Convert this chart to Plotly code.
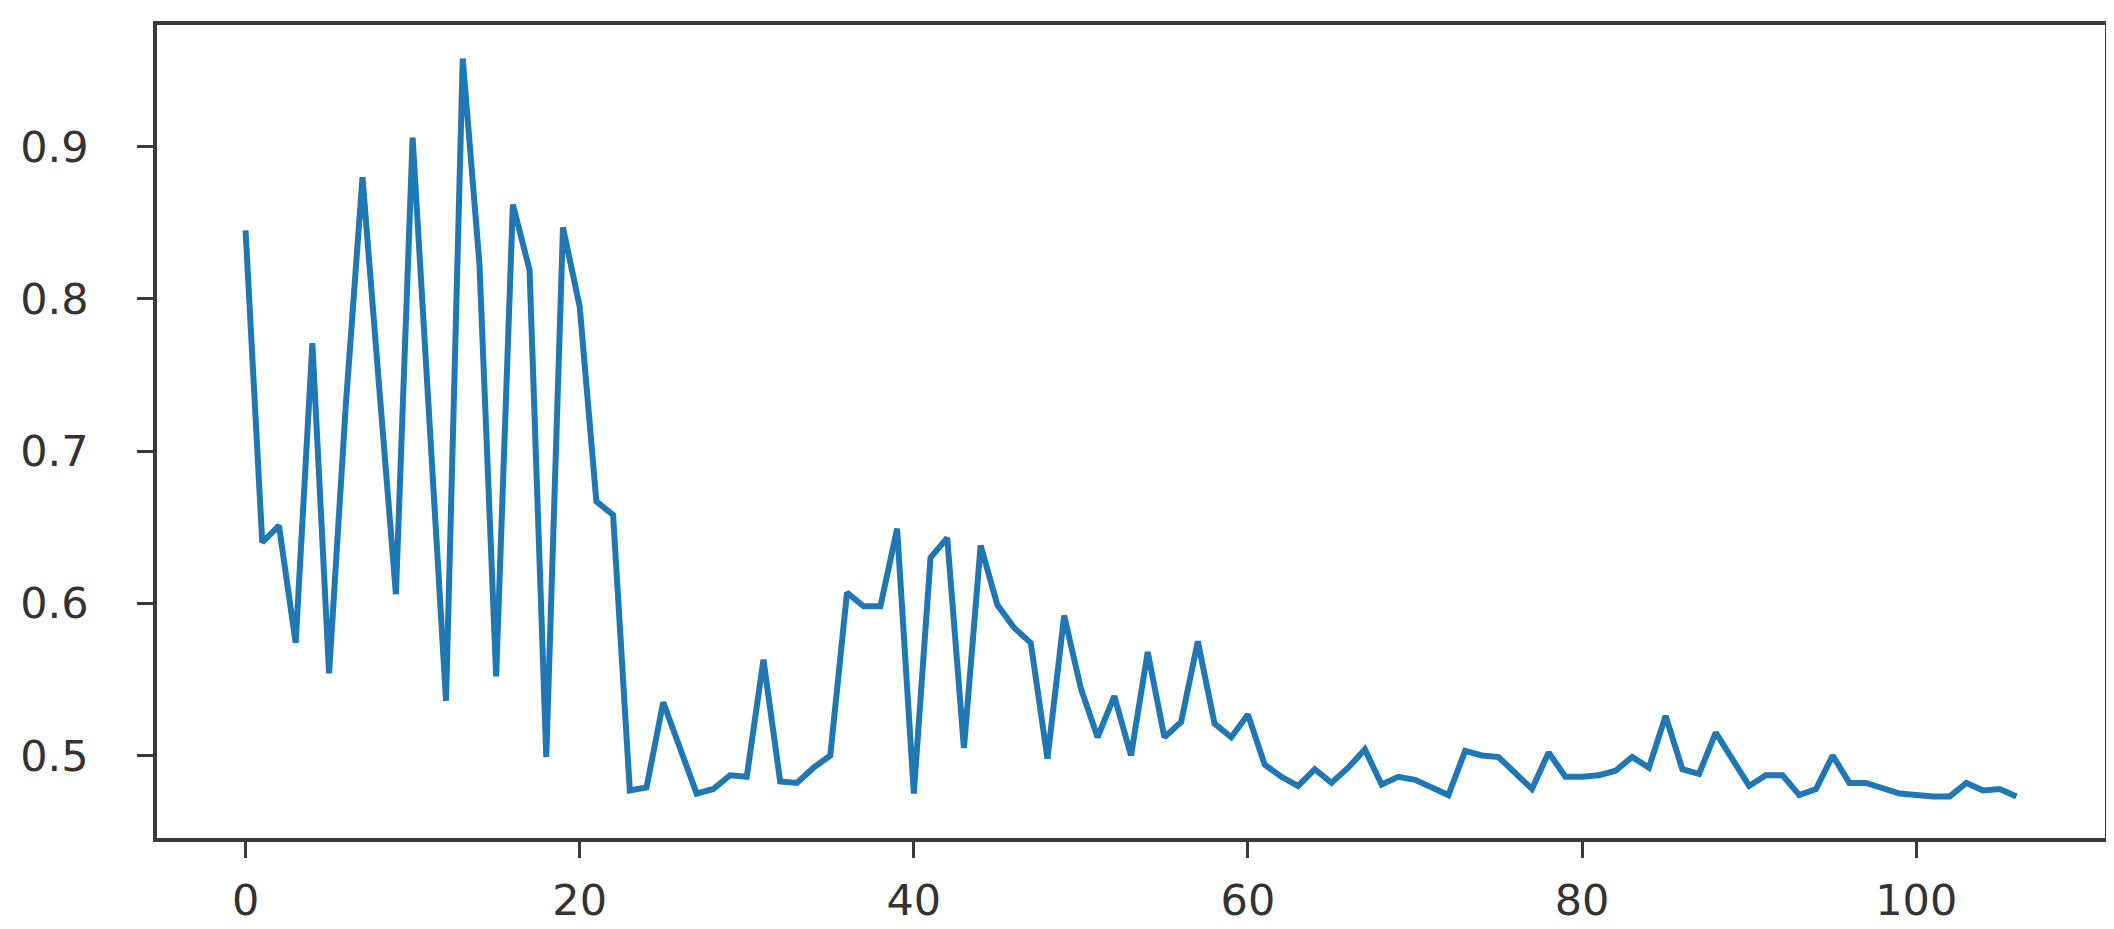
import plotly.graph_objects as go

# values, one per step (0..106)
values = [
    0.845, 0.640, 0.651, 0.574, 0.771, 0.554, 0.730, 0.880, 0.742, 0.606,
    0.906, 0.720, 0.536, 0.958, 0.823, 0.552, 0.862, 0.819, 0.499, 0.847,
    0.795, 0.667, 0.658, 0.477, 0.479, 0.535, 0.505, 0.475, 0.478, 0.487,
    0.486, 0.563, 0.483, 0.482, 0.492, 0.500, 0.607, 0.598, 0.598, 0.649,
    0.475, 0.630, 0.643, 0.505, 0.638, 0.599, 0.584, 0.574, 0.498, 0.592,
    0.544, 0.512, 0.539, 0.500, 0.568, 0.512, 0.522, 0.575, 0.521, 0.512,
    0.527, 0.494, 0.486, 0.480, 0.491, 0.482, 0.492, 0.504, 0.481, 0.486,
    0.484, 0.479, 0.474, 0.503, 0.500, 0.499, 0.489, 0.478, 0.502, 0.486,
    0.486, 0.487, 0.490, 0.499, 0.492, 0.526, 0.491, 0.488, 0.515, 0.497,
    0.480, 0.487, 0.487, 0.474, 0.478, 0.500, 0.482, 0.482, 0.479, 0.475,
    0.474, 0.473, 0.473, 0.482, 0.477, 0.478, 0.473,
]
steps = list(range(len(values)))

x_ticks = [0, 20, 40, 60, 80, 100]
y_ticks = [0.5, 0.6, 0.7, 0.8, 0.9]
y_tick_text = ["0.5", "0.6", "0.7", "0.8", "0.9"]

fig = go.Figure(go.Scatter(
    x=steps, y=values, mode="lines",
    line=dict(color="#1f77b4", width=6),
    hoverinfo="x+y",
))

axis_common = dict(
    showgrid=False, zeroline=False,
    showline=True, mirror=True, linecolor="#3a3a3a", linewidth=3.5,
    ticks="outside", ticklen=16, tickwidth=3, tickcolor="#3a3a3a",
    tickfont=dict(family="DejaVu Sans", size=43, color="#333333"),
)

fig.update_xaxes(range=[-5.3, 111.3], tickvals=x_ticks, ticklabelstandoff=6, **axis_common)
fig.update_yaxes(range=[0.4458, 0.980], tickvals=y_ticks, ticktext=y_tick_text,
                 ticklabelstandoff=40, **axis_common)

fig.update_layout(
    width=2114, height=929,
    margin=dict(l=147, r=17, t=17, b=77),
    paper_bgcolor="white", plot_bgcolor="white",
    showlegend=False,
)

fig.write_html("out.html")
